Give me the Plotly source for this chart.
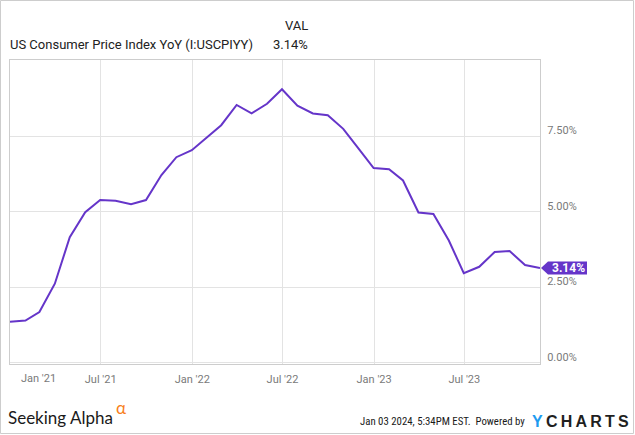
import plotly.graph_objects as go

# ---------------- data ----------------
dates = [
    "2020-12-31", "2021-01-31", "2021-02-28", "2021-03-31", "2021-04-30", "2021-05-31",
    "2021-06-30", "2021-07-31", "2021-08-31", "2021-09-30", "2021-10-31", "2021-11-30",
    "2021-12-31", "2022-01-31", "2022-02-28", "2022-03-31", "2022-04-30", "2022-05-31",
    "2022-06-30", "2022-07-31", "2022-08-31", "2022-09-30", "2022-10-31", "2022-11-30",
    "2022-12-31", "2023-01-31", "2023-02-28", "2023-03-31", "2023-04-30", "2023-05-31",
    "2023-06-30", "2023-07-31", "2023-08-31", "2023-09-30", "2023-10-31", "2023-11-30",
]
cpi_yoy = [
    1.36, 1.40, 1.68, 2.62, 4.16, 4.99,
    5.39, 5.37, 5.25, 5.39, 6.22, 6.81,
    7.04, 7.48, 7.87, 8.54, 8.26, 8.58,
    9.06, 8.52, 8.26, 8.20, 7.75, 7.11,
    6.45, 6.41, 6.04, 4.98, 4.93, 4.05,
    2.97, 3.18, 3.67, 3.70, 3.24, 3.14,
]
x_tick_vals = ["2021-07-01", "2022-01-01", "2022-07-01", "2023-01-01", "2023-07-01"]
x_tick_text = ["Jul '21", "Jan '22", "Jul '22", "Jan '23", "Jul '23"]
first_tick_val = "2021-01-01"
first_tick_text = "Jan '21"
y_tick_vals = [0, 2.5, 5, 7.5]
y_tick_text = ["0.00%", "2.50%", "5.00%", "7.50%"]
series_name = "US Consumer Price Index YoY (I:USCPIYY)"

# ---------------- layout constants ----------------
W, H = 635, 435
L, R, T, B = 10, 95, 60, 71
PW, PH = W - L - R, H - T - B
PURPLE = "#6535c9"
GRID = "#e3e3e3"
BORDER = "#cdcdcd"
TICK = "#7a7a7a"
FONT = "Roboto, Arial, sans-serif"


def px_x(px):
    return (px - L) / PW


def px_y(py):
    return 1 - (py - T) / PH


last_val = cpi_yoy[-1]
last_txt = f"{last_val:.2f}%"

fig = go.Figure()
fig.add_trace(go.Scatter(
    x=dates, y=cpi_yoy, mode="lines",
    line=dict(color=PURPLE, width=2),
    hoverinfo="skip", showlegend=False,
))

fig.update_layout(
    width=W, height=H,
    margin=dict(l=L, r=R, t=T, b=B, pad=0),
    paper_bgcolor="white", plot_bgcolor="white",
    font=dict(family=FONT, color=TICK, size=11),
    showlegend=False,
)
fig.update_xaxes(
    type="date",
    range=[dates[0], dates[-1]],
    tickvals=x_tick_vals, ticktext=x_tick_text,
    showgrid=True, gridcolor=GRID, gridwidth=1,
    showline=True, linecolor=BORDER, linewidth=1, mirror=True,
    ticks="", ticklabelstandoff=5,
    tickfont=dict(family=FONT, size=11, color=TICK),
    zeroline=False,
)
fig.update_yaxes(
    range=[-0.04, 10.03],
    side="right",
    tickvals=y_tick_vals, ticktext=y_tick_text,
    showgrid=True, gridcolor=GRID, gridwidth=1,
    showline=True, linecolor=BORDER, linewidth=1, mirror=True,
    ticks="", ticklabelstandoff=4, ticklabelshift=-6,
    tickfont=dict(family=FONT, size=11, color=TICK),
    zeroline=False,
)

shapes = [
    # outer frame of the whole picture
    dict(type="rect", xref="paper", yref="paper",
         x0=px_x(0.5), x1=px_x(633.5), y0=px_y(433.5), y1=px_y(0.5),
         line=dict(color=BORDER, width=1), fillcolor="rgba(0,0,0,0)", layer="below"),
    # last-value tag (pixel sized, anchored at the last value)
    dict(type="path", xref="paper", yref="y",
         xsizemode="pixel", ysizemode="pixel",
         xanchor=1, yanchor=last_val,
         path="M1,0 L8,6.5 L47,6.5 L47,-6.5 L8,-6.5 Z",
         fillcolor=PURPLE, line=dict(width=0), layer="above"),
]
fig.update_layout(shapes=shapes)

ann = []
# header
ann.append(dict(xref="paper", yref="paper", x=px_x(310), y=px_y(25),
                xanchor="right", yanchor="middle", showarrow=False,
                text="VAL", font=dict(family=FONT, size=13, color="#222")))
ann.append(dict(xref="paper", yref="paper", x=px_x(8), y=px_y(44.5),
                xanchor="left", yanchor="middle", showarrow=False,
                text=series_name, font=dict(family=FONT, size=13, color="#222")))
ann.append(dict(xref="paper", yref="paper", x=px_x(310), y=px_y(44.5),
                xanchor="right", yanchor="middle", showarrow=False,
                text=last_txt, font=dict(family=FONT, size=13, color="#222")))
# first x label, nudged inside the chart
ann.append(dict(xref="x", yref="paper", x=first_tick_val, y=0,
                xanchor="left", yanchor="top", xshift=8, yshift=-6, showarrow=False,
                text=first_tick_text, font=dict(family=FONT, size=11, color=TICK)))
# last value tag text
ann.append(dict(xref="paper", yref="y", x=1, y=last_val,
                xanchor="center", yanchor="middle", xshift=28, showarrow=False,
                text=f"<b>{last_txt}</b>", font=dict(family=FONT, size=12, color="white")))
# footer: Seeking Alpha logo
ann.append(dict(xref="paper", yref="paper", x=px_x(6), y=px_y(417),
                xanchor="left", yanchor="middle", showarrow=False,
                text="Seeking Alpha", font=dict(family="Lato, 'Open Sans', sans-serif", size=17, color="#1a1a1a")))
ann.append(dict(xref="paper", yref="paper", x=px_x(114), y=px_y(408),
                xanchor="left", yanchor="middle", showarrow=False,
                text="α", font=dict(family="Lato, sans-serif", size=17, color="#f7801e")))
# footer: timestamp & YCharts
ann.append(dict(xref="paper", yref="paper", x=px_x(527), y=px_y(421),
                xanchor="right", yanchor="middle", showarrow=False,
                text="Jan 03 2024, 5:34PM EST.\u00a0\u00a0Powered by",
                font=dict(family="'Roboto Condensed', Roboto, sans-serif", size=10.8, color="#1a1a1a")))
ann.append(dict(xref="paper", yref="paper", x=px_x(530), y=px_y(421),
                xanchor="left", yanchor="middle", showarrow=False,
                text="<b><span style='color:#1d9bf0'>Y</span>\u2009C\u2009H\u2009A\u2009R\u2009T\u2009S</b>",
                font=dict(family="'Liberation Sans', Arial, sans-serif", size=16, color="#1f1f1f")))
fig.update_layout(annotations=ann)

fig.write_html("out.html")
